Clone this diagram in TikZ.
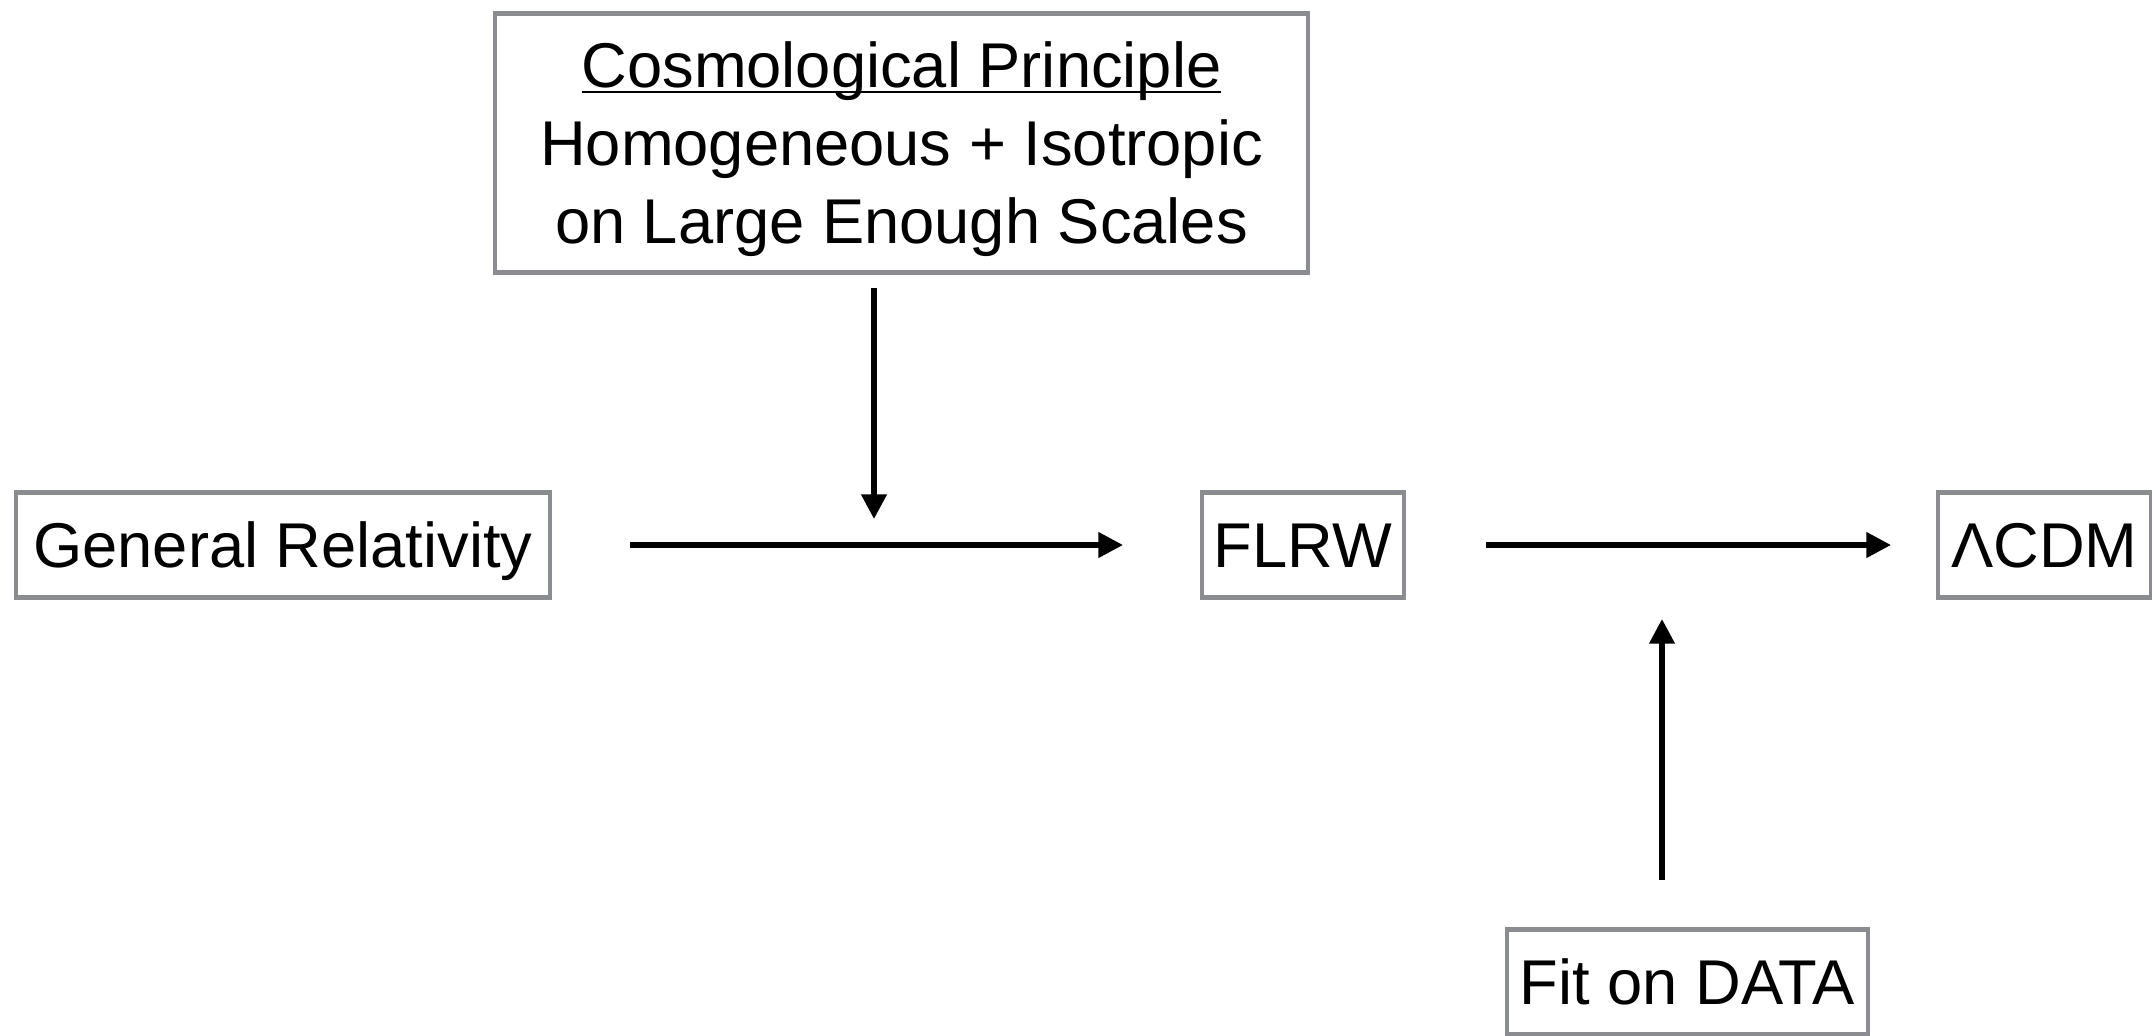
\documentclass[tikz,border=0pt]{standalone}
\usepackage{fontspec}
\setmainfont{Liberation Sans}
\usetikzlibrary{positioning,arrows.meta}
\definecolor{boxgray}{RGB}{138,140,144}

\begin{document}
\begin{tikzpicture}[
        stage/.style={rectangle, draw=boxgray, line width=1.4pt, outer sep=0pt, inner xsep=0pt, minimum height=1.05cm, text height=13pt, text depth=0.1pt, font=\fontsize{18}{22}\selectfont},
        premise/.style={rectangle, draw=boxgray, line width=1.4pt, outer sep=0pt, minimum width=8.13cm, minimum height=2.59cm, align=center, font=\fontsize{18}{22.2}\selectfont},
        flow/.style={-{Triangle[length=7pt,width=7pt]}, line width=1.5pt, black}]
        \useasboundingbox (0,0) rectangle (21.52,10.35);
        %% Main chain
    	\node[stage, minimum width=5.34cm] (gr) at (2.83,4.90) {General Relativity};
    	\node[stage, minimum width=2.02cm, right=6.52cm of gr] (flrw) {FLRW};
    	\node[stage, minimum width=2.13cm, right=5.34cm of flrw] (lcdm) {ΛCDM};
    	
    	%% Inputs
    	\node[premise, above right=2.2cm and -0.55cm of gr] (cp) {\rule{0pt}{16.3pt}\underline{\smash{Cosmological Principle}}\\ Homogeneous + Isotropic\\ on Large Enough Scales};
    	\node[stage, minimum width=3.61cm, below right=3.32cm and 1.03cm of flrw] (fit) {Fit on DATA};
    	
    	\coordinate (merge) at (8.74,4.90);
    	\coordinate (fitin) at (16.62,4.90);
    	
    	%% Arrows
    	\draw[flow, shorten <=0.8cm, shorten >=0.79cm] (gr) -- (flrw);
    	\draw[flow, shorten <=0.82cm, shorten >=0.47cm] (flrw) -- (lcdm);
    	\draw[flow, shorten <=0.15cm, shorten >=0.26cm] (cp.south -| merge) -- (merge);
    	\draw[flow, shorten <=0.5cm, shorten >=0.74cm] (fit.north -| fitin) -- (fitin);
\end{tikzpicture}
\end{document}
